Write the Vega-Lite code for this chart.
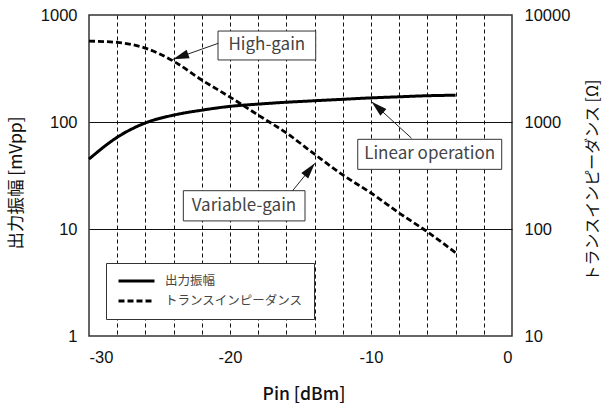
{
  "$schema": "https://vega.github.io/schema/vega-lite/v6.json",
  "autosize": {"type": "none"},
  "width": 423,
  "height": 321,
  "padding": {"left": 89, "top": 15, "right": 91, "bottom": 67},
  "background": "white",
  "config": {
    "view": {"stroke": "#333", "strokeWidth": 1.5},
    "axis": {"ticks": false, "domain": false, "labelFont": "Liberation Sans", "labelFontSize": 16.5, "labelColor": "#111", "titleFont": "Noto Sans CJK JP", "titleFontWeight": "normal", "titleColor": "#111"},
    "legend": {"orient": "bottom-left", "offset": 17, "strokeColor": "#333", "fillColor": "white", "padding": 11, "symbolType": "stroke", "symbolSize": 1296, "symbolStrokeWidth": 3, "symbolStrokeColor": "black", "clipHeight": 14, "labelFont": "Noto Sans CJK JP", "labelFontSize": 12.5, "labelColor": "#444", "labelOffset": 9, "rowPadding": 6}
  },
  "datasets": {
    "amp": [
      {"x": -30, "y": 45}, {"x": -28, "y": 72}, {"x": -26, "y": 98}, {"x": -24, "y": 116},
      {"x": -22, "y": 129}, {"x": -20, "y": 140}, {"x": -18, "y": 147}, {"x": -16, "y": 153},
      {"x": -14, "y": 158}, {"x": -12, "y": 163}, {"x": -10, "y": 168}, {"x": -8, "y": 172},
      {"x": -6, "y": 176}, {"x": -4, "y": 178}
    ],
    "tz": [
      {"x": -30, "y": 5700}, {"x": -28, "y": 5550}, {"x": -26, "y": 4900}, {"x": -24, "y": 3700},
      {"x": -22, "y": 2470}, {"x": -20, "y": 1710}, {"x": -18, "y": 1160}, {"x": -16, "y": 790},
      {"x": -14, "y": 500}, {"x": -12, "y": 320}, {"x": -10, "y": 217}, {"x": -8, "y": 141},
      {"x": -6, "y": 94}, {"x": -4, "y": 60}
    ],
    "boxes": [
      {"x": -20.85, "x2": -13.92, "y": 708, "y2": 380},
      {"x": -10.94, "x2": -0.73, "y": 68.9, "y2": 36.1},
      {"x": -23.31, "x2": -14.68, "y": 22.8, "y2": 11.9}
    ],
    "labels": [
      {"x": -17.39, "y": 519, "t": "High-gain"},
      {"x": -5.84, "y": 49.9, "t": "Linear operation"},
      {"x": -19.01, "y": 16.4, "t": "Variable-gain"}
    ],
    "arrows": [
      {"x": -20.83, "y": 544, "x2": -24.04, "y2": 385},
      {"x": -7.12, "y": 70.4, "x2": -9.96, "y2": 155},
      {"x": -15.56, "y": 22.8, "x2": -13.98, "y2": 41.1}
    ]
  },
  "encoding": {
    "x": {
      "field": "x", "type": "quantitative",
      "scale": {"domain": [-30, 0], "nice": false, "zero": false},
      "axis": {
        "values": [-30, -28, -26, -24, -22, -20, -18, -16, -14, -12, -10, -8, -6, -4, -2, 0],
        "labelExpr": "datum.value % 10 === 0 ? '' + datum.value : ''",
        "labelPadding": 13,
        "grid": true, "gridColor": "#111", "gridWidth": 1, "gridDash": [4, 3],
        "gridOpacity": {"condition": {"test": "datum.value === -30 || datum.value === 0", "value": 0}, "value": 1},
        "title": "Pin [dBm]", "titleFontSize": 17.5, "titleFontWeight": 500, "titleBaseline": "alphabetic", "titleY": 63, "titleX": 214.5
      }
    }
  },
  "layer": [
    {
      "encoding": {
        "y": {
          "field": "y", "type": "quantitative",
          "scale": {"type": "log", "domain": [1, 1000], "nice": false, "zero": false},
          "axis": {
            "orient": "left", "values": [1, 10, 100, 1000], "format": "d", "labelPadding": 12,
            "grid": true, "gridColor": "#111", "gridWidth": 1,
            "gridOpacity": {"condition": {"test": "datum.value === 1 || datum.value === 1000", "value": 0}, "value": 1},
            "title": "出力振幅 [mVpp]", "titleFontSize": 17.5, "titleAngle": -90, "titleAlign": "center", "titleBaseline": "middle", "titleX": -72.5, "titleY": 167.5
          }
        }
      },
      "layer": [
        {
          "data": {"name": "amp"},
          "mark": {"type": "line", "color": "black", "strokeWidth": 3, "interpolate": "monotone"},
          "encoding": {
            "strokeDash": {"datum": "出力振幅", "type": "nominal", "scale": {"domain": ["出力振幅", "トランスインピーダンス"], "range": [[1, 0], [6, 3]]}, "legend": {"title": null}}
          }
        },
        {
          "data": {"name": "boxes"},
          "mark": {"type": "rect", "fill": "white", "stroke": "#333", "strokeWidth": 1},
          "encoding": {"x2": {"field": "x2"}, "y2": {"field": "y2"}}
        },
        {
          "data": {"name": "labels"},
          "mark": {"type": "text", "font": "Noto Sans CJK JP", "fontSize": 17, "color": "#444", "align": "center", "baseline": "middle"},
          "encoding": {"text": {"field": "t"}}
        },
        {
          "data": {"name": "arrows"},
          "mark": {"type": "rule", "color": "#222", "strokeWidth": 1},
          "encoding": {"x2": {"field": "x2"}, "y2": {"field": "y2"}}
        },
        {
          "data": {"values": [{"x": -24.04, "y": 385}]},
          "mark": {"type": "point", "shape": "M0,0L-0.56,2L0.56,2Z", "size": 256, "filled": true, "color": "#111", "opacity": 1, "angle": 250.4}
        },
        {
          "data": {"values": [{"x": -9.96, "y": 155}]},
          "mark": {"type": "point", "shape": "M0,0L-0.56,2L0.56,2Z", "size": 256, "filled": true, "color": "#111", "opacity": 1, "angle": 312.4}
        },
        {
          "data": {"values": [{"x": -13.98, "y": 41.1}]},
          "mark": {"type": "point", "shape": "M0,0L-0.56,2L0.56,2Z", "size": 256, "filled": true, "color": "#111", "opacity": 1, "angle": 39.2}
        }
      ]
    },
    {
      "data": {"name": "tz"},
      "mark": {"type": "line", "color": "black", "strokeWidth": 2.8, "interpolate": "monotone"},
      "encoding": {
        "y": {
          "field": "y", "type": "quantitative",
          "scale": {"type": "log", "domain": [10, 10000], "nice": false, "zero": false},
          "axis": {
            "orient": "right", "values": [10, 100, 1000, 10000], "format": "d", "labelPadding": 12, "grid": false,
            "title": "トランスインピーダンス [Ω]", "titleFontSize": 16, "titleAngle": -90, "titleAlign": "center", "titleBaseline": "middle", "titleX": 80, "titleY": 165
          }
        },
        "strokeDash": {"datum": "トランスインピーダンス", "type": "nominal", "scale": {"domain": ["出力振幅", "トランスインピーダンス"], "range": [[1, 0], [6, 3]]}, "legend": {"title": null}}
      }
    }
  ],
  "resolve": {"scale": {"y": "independent"}}
}
